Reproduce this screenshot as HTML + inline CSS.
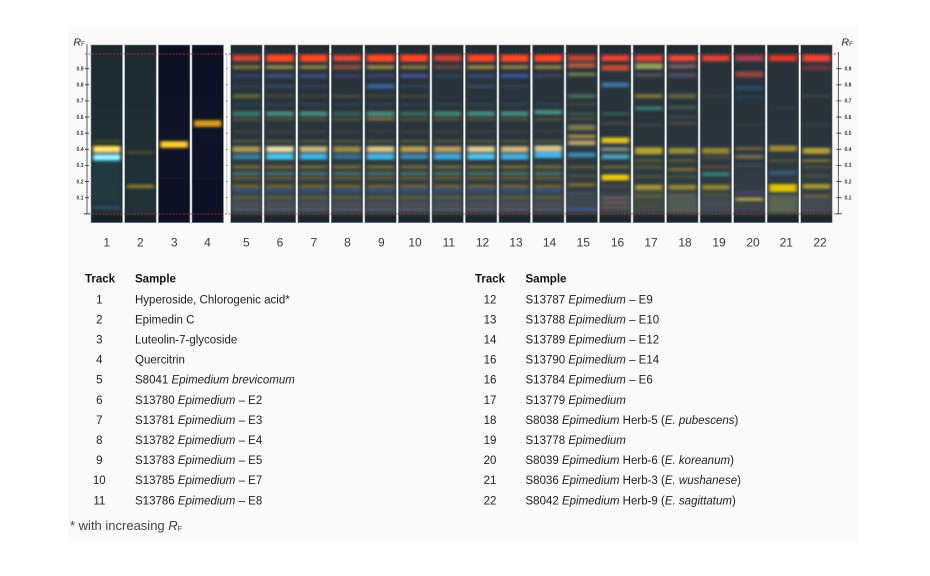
<!DOCTYPE html>
<html><head><meta charset="utf-8"><style>
html,body{margin:0;padding:0;background:#fff;}
body{width:930px;height:576px;overflow:hidden;position:relative;font-family:"Liberation Sans",sans-serif;}
svg{position:absolute;left:0;top:0;}
</style></head><body>
<svg width="930" height="576" viewBox="0 0 930 576" xmlns="http://www.w3.org/2000/svg">
<defs>
<filter id="bl" filterUnits="userSpaceOnUse" x="-10" y="35" width="52" height="200"><feGaussianBlur stdDeviation="1.9 1.35"/></filter>
<clipPath id="cp"><rect x="0" y="45" width="31.5" height="177.7"/></clipPath>
<linearGradient id="gE" gradientUnits="userSpaceOnUse" x1="0" y1="45" x2="0" y2="222.7">
<stop offset="0" stop-color="#1e2930"/><stop offset="0.05" stop-color="#222e37"/><stop offset="0.06" stop-color="#27323b"/><stop offset="0.5" stop-color="#29343c"/><stop offset="0.8" stop-color="#313c44"/><stop offset="0.93" stop-color="#3a444b"/><stop offset="0.952" stop-color="#2a343a"/><stop offset="0.965" stop-color="#1d272e"/><stop offset="1" stop-color="#1c252c"/>
</linearGradient>
<linearGradient id="gT" gradientUnits="userSpaceOnUse" x1="0" y1="45" x2="0" y2="222.7">
<stop offset="0" stop-color="#18242a"/><stop offset="0.05" stop-color="#1c2a30"/><stop offset="0.5" stop-color="#1e2e34"/><stop offset="0.94" stop-color="#203238"/><stop offset="0.965" stop-color="#172228"/><stop offset="1" stop-color="#162026"/>
</linearGradient>
<linearGradient id="gN" gradientUnits="userSpaceOnUse" x1="0" y1="45" x2="0" y2="222.7">
<stop offset="0" stop-color="#0c0f20"/><stop offset="0.5" stop-color="#0f1327"/><stop offset="1" stop-color="#0d1022"/>
</linearGradient>
<g id="low">
<rect x="1" y="193" width="29.5" height="20" fill="#4a525a" opacity=".35"/>
<path d="M2 141.2h27.5" stroke="#7a7040" stroke-width="3" stroke-opacity=".5"/>
<path d="M2 131.6h27.5" stroke="#4a5058" stroke-width="3" stroke-opacity=".4"/>
<path d="M2 119.5h27.5" stroke="#6a6040" stroke-width="3" stroke-opacity=".6"/>
<path d="M2 104.2h27.5" stroke="#3a5070" stroke-width="3" stroke-opacity=".4"/>
<path d="M2 167h27.5" stroke="#7a7030" stroke-width="3.5" stroke-opacity=".85"/>
<path d="M2 173.5h27.5" stroke="#4a7868" stroke-width="3.5" stroke-opacity=".85"/>
<path d="M2 178.3h27.5" stroke="#7a6a30" stroke-width="3" stroke-opacity=".7"/>
<path d="M2 186.4h27.5" stroke="#7a6a30" stroke-width="3.5" stroke-opacity=".85"/>
<path d="M2 190.4h27.5" stroke="#3a5890" stroke-width="3" stroke-opacity=".8"/>
<path d="M2 197.7h27.5" stroke="#6a6438" stroke-width="3" stroke-opacity=".7"/>
<path d="M2 204.1h27.5" stroke="#5a5a60" stroke-width="3" stroke-opacity=".6"/>
<path d="M2 209h27.5" stroke="#556070" stroke-width="3" stroke-opacity=".6"/>
</g>
</defs>

<rect x="68" y="25" width="791" height="518" fill="#fafafa"/>

<!-- Track 1 -->
<g transform="translate(91,0)"><rect x="0" y="45" width="31.5" height="177.7" fill="url(#gT)"/>
<g clip-path="url(#cp)"><g filter="url(#bl)">
<rect x="2" y="162" width="27.5" height="40" fill="#2a4a55" opacity=".35"/>
<path d="M2 141.2h27.5" stroke="#5a5a20" stroke-width="3" stroke-opacity=".6"/>
<path d="M2 149.3h27.5" stroke="#ffd000" stroke-width="7"/>
<path d="M2 149.3h27.5" stroke="#fff2a0" stroke-width="2.5"/>
<path d="M2 157.4h27.5" stroke="#40e0ff" stroke-width="7"/>
<path d="M2 157.4h27.5" stroke="#c0f8ff" stroke-width="2.5"/>
<path d="M2 207.4h27.5" stroke="#2a5a80" stroke-width="3" stroke-opacity=".8"/>
</g></g><rect x="0" y="45" width="31.5" height="177.7" fill="none" stroke="#8e969a" stroke-width=".6"/></g>
<!-- Track 2 -->
<g transform="translate(124.7,0)"><rect x="0" y="45" width="31.5" height="177.7" fill="url(#gT)"/>
<g clip-path="url(#cp)"><g filter="url(#bl)">
<path d="M2 152.5h27.5" stroke="#5a5a30" stroke-width="3" stroke-opacity=".7"/>
<path d="M2 186.4h27.5" stroke="#8a7a2a" stroke-width="4" stroke-opacity=".9"/>
</g></g><rect x="0" y="45" width="31.5" height="177.7" fill="none" stroke="#8e969a" stroke-width=".6"/></g>
<!-- Track 3 -->
<g transform="translate(158.4,0)"><rect x="0" y="45" width="31.5" height="177.7" fill="url(#gN)"/>
<g clip-path="url(#cp)"><g filter="url(#bl)">
<path d="M2 144.5h27.5" stroke="#f0b800" stroke-width="7"/>
<path d="M2 144.5h27.5" stroke="#ffd040" stroke-width="3"/>
<path d="M2 178.3h27.5" stroke="#1a1a24" stroke-width="3" stroke-opacity=".4"/>
</g></g><rect x="0" y="45" width="31.5" height="177.7" fill="none" stroke="#8e969a" stroke-width=".6"/></g>
<!-- Track 4 -->
<g transform="translate(192,0)"><rect x="0" y="45" width="31.5" height="177.7" fill="url(#gN)"/>
<g clip-path="url(#cp)"><g filter="url(#bl)">
<path d="M2 123.5h27.5" stroke="#c89010" stroke-width="7"/>
<path d="M2 123.5h27.5" stroke="#d8a020" stroke-width="3"/>
<path d="M2 178.3h27.5" stroke="#1a1a24" stroke-width="3" stroke-opacity=".5"/>
</g></g><rect x="0" y="45" width="31.5" height="177.7" fill="none" stroke="#8e969a" stroke-width=".6"/></g>

<!-- Track 5 -->
<g transform="translate(230.7,0)"><rect x="0" y="45" width="31.5" height="177.7" fill="url(#gE)"/>
<g clip-path="url(#cp)"><g filter="url(#bl)"><use href="#low"/>
<path d="M2 58.2h27.5" stroke="#e04a30" stroke-width="6" stroke-opacity=".9"/>
<path d="M2 67.1h27.5" stroke="#9a8a40" stroke-width="4" stroke-opacity=".7"/>
<path d="M2 75.9h27.5" stroke="#3a4a70" stroke-width="4" stroke-opacity=".6"/>
<path d="M2 86.4h27.5" stroke="#34506a" stroke-width="3" stroke-opacity=".5"/>
<path d="M2 96.1h27.5" stroke="#7a7a38" stroke-width="4" stroke-opacity=".7"/>
<path d="M2 113.8h27.5" stroke="#408070" stroke-width="5" stroke-opacity=".85"/>
<path d="M2 149.3h27.5" stroke="#a89848" stroke-width="6"/>
<path d="M2 156.8h27.5" stroke="#3a8aaa" stroke-width="5" stroke-opacity=".9"/>
</g></g><rect x="0" y="45" width="31.5" height="177.7" fill="none" stroke="#8e969a" stroke-width=".6"/></g>
<!-- Track 6 -->
<g transform="translate(264.2,0)"><rect x="0" y="45" width="31.5" height="177.7" fill="url(#gE)"/>
<g clip-path="url(#cp)"><g filter="url(#bl)"><use href="#low"/>
<path d="M2 58.2h27.5" stroke="#ff4a22" stroke-width="7"/>
<path d="M2 67.1h27.5" stroke="#a89048" stroke-width="4" stroke-opacity=".85"/>
<path d="M2 75.9h27.5" stroke="#4a5890" stroke-width="4" stroke-opacity=".7"/>
<path d="M2 86.4h27.5" stroke="#3a5a80" stroke-width="3" stroke-opacity=".6"/>
<path d="M2 96.1h27.5" stroke="#5a5a40" stroke-width="3" stroke-opacity=".5"/>
<path d="M2 113.8h27.5" stroke="#4a8a78" stroke-width="5"/>
<path d="M2 149.3h27.5" stroke="#e8e0a8" stroke-width="6"/>
<path d="M2 156.6h27.5" stroke="#40c8f0" stroke-width="6"/>
</g></g><rect x="0" y="45" width="31.5" height="177.7" fill="none" stroke="#8e969a" stroke-width=".6"/></g>
<!-- Track 7 -->
<g transform="translate(297.8,0)"><rect x="0" y="45" width="31.5" height="177.7" fill="url(#gE)"/>
<g clip-path="url(#cp)"><g filter="url(#bl)"><use href="#low"/>
<path d="M2 58.2h27.5" stroke="#ff4a22" stroke-width="7"/>
<path d="M2 67.1h27.5" stroke="#a89048" stroke-width="4" stroke-opacity=".8"/>
<path d="M2 75.9h27.5" stroke="#4a5a90" stroke-width="4" stroke-opacity=".7"/>
<path d="M2 86.4h27.5" stroke="#3a5070" stroke-width="3" stroke-opacity=".5"/>
<path d="M2 96.1h27.5" stroke="#5a5a40" stroke-width="3" stroke-opacity=".4"/>
<path d="M2 113.8h27.5" stroke="#4a8a78" stroke-width="5"/>
<path d="M2 149.3h27.5" stroke="#c8b880" stroke-width="6"/>
<path d="M2 156.6h27.5" stroke="#38b8e8" stroke-width="6"/>
</g></g><rect x="0" y="45" width="31.5" height="177.7" fill="none" stroke="#8e969a" stroke-width=".6"/></g>
<!-- Track 8 -->
<g transform="translate(331.3,0)"><rect x="0" y="45" width="31.5" height="177.7" fill="url(#gE)"/>
<g clip-path="url(#cp)"><g filter="url(#bl)"><use href="#low"/>
<path d="M2 58.2h27.5" stroke="#e84530" stroke-width="6"/>
<path d="M2 67.1h27.5" stroke="#a05040" stroke-width="5" stroke-opacity=".8"/>
<path d="M2 75.9h27.5" stroke="#4a4a70" stroke-width="4" stroke-opacity=".5"/>
<path d="M2 96.1h27.5" stroke="#6a6a38" stroke-width="3" stroke-opacity=".5"/>
<path d="M2 113.8h27.5" stroke="#3a6a60" stroke-width="5" stroke-opacity=".7"/>
<path d="M2 149.3h27.5" stroke="#9a8a40" stroke-width="6"/>
<path d="M2 156.6h27.5" stroke="#3a7090" stroke-width="5"/>
</g></g><rect x="0" y="45" width="31.5" height="177.7" fill="none" stroke="#8e969a" stroke-width=".6"/></g>
<!-- Track 9 -->
<g transform="translate(364.8,0)"><rect x="0" y="45" width="31.5" height="177.7" fill="url(#gE)"/>
<g clip-path="url(#cp)"><g filter="url(#bl)"><use href="#low"/>
<path d="M2 58.2h27.5" stroke="#ff4a22" stroke-width="7"/>
<path d="M2 67.1h27.5" stroke="#b09040" stroke-width="4" stroke-opacity=".85"/>
<path d="M2 75.9h27.5" stroke="#4a5890" stroke-width="4" stroke-opacity=".5"/>
<path d="M2 86.4h27.5" stroke="#3a6ab0" stroke-width="5" stroke-opacity=".8"/>
<path d="M2 96.1h27.5" stroke="#5a5a40" stroke-width="3" stroke-opacity=".4"/>
<path d="M2 113.8h27.5" stroke="#4a8a78" stroke-width="5"/>
<path d="M2 118.7h27.5" stroke="#8a7040" stroke-width="3" stroke-opacity=".8"/>
<path d="M2 149.3h27.5" stroke="#d8c888" stroke-width="6"/>
<path d="M2 156.6h27.5" stroke="#40b8e8" stroke-width="6"/>
</g></g><rect x="0" y="45" width="31.5" height="177.7" fill="none" stroke="#8e969a" stroke-width=".6"/></g>
<!-- Track 10 -->
<g transform="translate(398.4,0)"><rect x="0" y="45" width="31.5" height="177.7" fill="url(#gE)"/>
<g clip-path="url(#cp)"><g filter="url(#bl)"><use href="#low"/>
<path d="M2 58.2h27.5" stroke="#ff4422" stroke-width="7"/>
<path d="M2 67.1h27.5" stroke="#a08040" stroke-width="4" stroke-opacity=".8"/>
<path d="M2 75.9h27.5" stroke="#5058a8" stroke-width="4" stroke-opacity=".8"/>
<path d="M2 86.4h27.5" stroke="#3a5070" stroke-width="3" stroke-opacity=".5"/>
<path d="M2 96.1h27.5" stroke="#5a5a40" stroke-width="3" stroke-opacity=".5"/>
<path d="M2 113.8h27.5" stroke="#407060" stroke-width="5" stroke-opacity=".8"/>
<path d="M2 149.3h27.5" stroke="#b8a050" stroke-width="6"/>
<path d="M2 156.6h27.5" stroke="#3a8ab8" stroke-width="5"/>
</g></g><rect x="0" y="45" width="31.5" height="177.7" fill="none" stroke="#8e969a" stroke-width=".6"/></g>
<!-- Track 11 -->
<g transform="translate(431.9,0)"><rect x="0" y="45" width="31.5" height="177.7" fill="url(#gE)"/>
<g clip-path="url(#cp)"><g filter="url(#bl)"><use href="#low"/>
<path d="M2 58.2h27.5" stroke="#d84030" stroke-width="6" stroke-opacity=".9"/>
<path d="M2 67.1h27.5" stroke="#805040" stroke-width="4" stroke-opacity=".7"/>
<path d="M2 75.9h27.5" stroke="#3a4a70" stroke-width="4" stroke-opacity=".5"/>
<path d="M2 113.8h27.5" stroke="#408a70" stroke-width="5" stroke-opacity=".9"/>
<path d="M2 149.3h27.5" stroke="#b8a060" stroke-width="6"/>
<path d="M2 156.6h27.5" stroke="#3aa8d8" stroke-width="6"/>
</g></g><rect x="0" y="45" width="31.5" height="177.7" fill="none" stroke="#8e969a" stroke-width=".6"/></g>
<!-- Track 12 -->
<g transform="translate(465.4,0)"><rect x="0" y="45" width="31.5" height="177.7" fill="url(#gE)"/>
<g clip-path="url(#cp)"><g filter="url(#bl)"><use href="#low"/>
<path d="M2 58.2h27.5" stroke="#ff4422" stroke-width="7"/>
<path d="M2 67.1h27.5" stroke="#b09040" stroke-width="4" stroke-opacity=".85"/>
<path d="M2 75.9h27.5" stroke="#4a5890" stroke-width="4" stroke-opacity=".6"/>
<path d="M2 86.4h27.5" stroke="#3a5a88" stroke-width="3" stroke-opacity=".6"/>
<path d="M2 113.8h27.5" stroke="#4a8a78" stroke-width="5"/>
<path d="M2 149.3h27.5" stroke="#e0d090" stroke-width="6"/>
<path d="M2 156.6h27.5" stroke="#48c8f0" stroke-width="6"/>
</g></g><rect x="0" y="45" width="31.5" height="177.7" fill="none" stroke="#8e969a" stroke-width=".6"/></g>
<!-- Track 13 -->
<g transform="translate(498.9,0)"><rect x="0" y="45" width="31.5" height="177.7" fill="url(#gE)"/>
<g clip-path="url(#cp)"><g filter="url(#bl)"><use href="#low"/>
<path d="M2 58.2h27.5" stroke="#ff4a22" stroke-width="7"/>
<path d="M2 67.1h27.5" stroke="#a89048" stroke-width="4" stroke-opacity=".8"/>
<path d="M2 75.9h27.5" stroke="#4a5ab0" stroke-width="4" stroke-opacity=".8"/>
<path d="M2 86.4h27.5" stroke="#3a5070" stroke-width="3" stroke-opacity=".5"/>
<path d="M2 113.8h27.5" stroke="#4a8a78" stroke-width="5"/>
<path d="M2 149.3h27.5" stroke="#d0b880" stroke-width="6"/>
<path d="M2 156.6h27.5" stroke="#40b0e0" stroke-width="6"/>
</g></g><rect x="0" y="45" width="31.5" height="177.7" fill="none" stroke="#8e969a" stroke-width=".6"/></g>
<!-- Track 14 -->
<g transform="translate(532.5,0)"><rect x="0" y="45" width="31.5" height="177.7" fill="url(#gE)"/>
<g clip-path="url(#cp)"><g filter="url(#bl)"><use href="#low"/>
<path d="M2 58.2h27.5" stroke="#ff4422" stroke-width="7"/>
<path d="M2 67.1h27.5" stroke="#a89048" stroke-width="4" stroke-opacity=".8"/>
<path d="M2 75.9h27.5" stroke="#4a5070" stroke-width="4" stroke-opacity=".5"/>
<path d="M2 112.2h27.5" stroke="#4a8a78" stroke-width="5"/>
<path d="M2 148.5h27.5" stroke="#d8c890" stroke-width="6"/>
<path d="M2 155h27.5" stroke="#40b8e8" stroke-width="6"/>
</g></g><rect x="0" y="45" width="31.5" height="177.7" fill="none" stroke="#8e969a" stroke-width=".6"/></g>
<!-- Track 15 -->
<g transform="translate(566,0)"><rect x="0" y="45" width="31.5" height="177.7" fill="url(#gE)"/>
<g clip-path="url(#cp)"><g filter="url(#bl)">
<rect x="1" y="193" width="29.5" height="20" fill="#4a525a" opacity=".3"/>
<path d="M2 58.2h27.5" stroke="#d04830" stroke-width="6" stroke-opacity=".9"/>
<path d="M2 65.5h27.5" stroke="#c06040" stroke-width="5" stroke-opacity=".85"/>
<path d="M2 74.3h27.5" stroke="#7a8a50" stroke-width="4" stroke-opacity=".8"/>
<path d="M2 96.1h27.5" stroke="#4a7a60" stroke-width="4" stroke-opacity=".8"/>
<path d="M2 104.2h27.5" stroke="#5a5a40" stroke-width="3" stroke-opacity=".5"/>
<path d="M2 113.8h27.5" stroke="#4a6a58" stroke-width="3" stroke-opacity=".6"/>
<path d="M2 118.7h27.5" stroke="#6a6a40" stroke-width="3" stroke-opacity=".5"/>
<path d="M2 127.5h27.5" stroke="#8a8a50" stroke-width="6" stroke-opacity=".8"/>
<path d="M2 136.4h27.5" stroke="#a89050" stroke-width="4" stroke-opacity=".9"/>
<path d="M2 142.9h27.5" stroke="#c8a868" stroke-width="5" stroke-opacity=".9"/>
<path d="M2 154.9h27.5" stroke="#3a90b8" stroke-width="5" stroke-opacity=".9"/>
<path d="M2 167h27.5" stroke="#6a6030" stroke-width="3" stroke-opacity=".8"/>
<path d="M2 175.9h27.5" stroke="#5a5a40" stroke-width="3" stroke-opacity=".6"/>
<path d="M2 184.8h27.5" stroke="#8a7030" stroke-width="3.5" stroke-opacity=".85"/>
<path d="M2 192.8h27.5" stroke="#4a5060" stroke-width="3" stroke-opacity=".6"/>
<path d="M2 209h27.5" stroke="#3a5a90" stroke-width="3" stroke-opacity=".8"/>
</g></g><rect x="0" y="45" width="31.5" height="177.7" fill="none" stroke="#8e969a" stroke-width=".6"/></g>
<!-- Track 16 -->
<g transform="translate(599.5,0)"><rect x="0" y="45" width="31.5" height="177.7" fill="url(#gE)"/>
<g clip-path="url(#cp)"><g filter="url(#bl)">
<rect x="1" y="193" width="29.5" height="20" fill="#4a525a" opacity=".3"/>
<path d="M2 58.2h27.5" stroke="#f04030" stroke-width="6"/>
<path d="M2 67.9h27.5" stroke="#d05030" stroke-width="6" stroke-opacity=".9"/>
<path d="M2 84.8h27.5" stroke="#3a78b0" stroke-width="5" stroke-opacity=".9"/>
<path d="M2 113.8h27.5" stroke="#3a6a5a" stroke-width="3" stroke-opacity=".7"/>
<path d="M2 123.5h27.5" stroke="#5a5a40" stroke-width="3" stroke-opacity=".5"/>
<path d="M2 140.4h27.5" stroke="#e0c020" stroke-width="6"/>
<path d="M2 149.3h27.5" stroke="#8a9888" stroke-width="4" stroke-opacity=".85"/>
<path d="M2 156.6h27.5" stroke="#50a8c8" stroke-width="5" stroke-opacity=".9"/>
<path d="M2 167h27.5" stroke="#7a7030" stroke-width="3" stroke-opacity=".8"/>
<path d="M2 177.5h27.5" stroke="#e8c810" stroke-width="6"/>
<path d="M2 186.4h27.5" stroke="#5a5040" stroke-width="3" stroke-opacity=".6"/>
<path d="M2 197.7h27.5" stroke="#806060" stroke-width="2.5" stroke-opacity=".8"/>
<path d="M2 202.5h27.5" stroke="#806058" stroke-width="2.5" stroke-opacity=".8"/>
<path d="M2 207.4h27.5" stroke="#705a58" stroke-width="2.5" stroke-opacity=".8"/>
</g></g><rect x="0" y="45" width="31.5" height="177.7" fill="none" stroke="#8e969a" stroke-width=".6"/></g>
<!-- Track 17 -->
<g transform="translate(633.1,0)"><rect x="0" y="45" width="31.5" height="177.7" fill="url(#gE)"/>
<g clip-path="url(#cp)"><g filter="url(#bl)">
<rect x="1" y="190" width="29.5" height="23" fill="#4a5040" opacity=".6"/>
<path d="M2 58.2h27.5" stroke="#e84030" stroke-width="6"/>
<path d="M2 66.3h27.5" stroke="#a0a860" stroke-width="6" stroke-opacity=".9"/>
<path d="M2 75.1h27.5" stroke="#6a6070" stroke-width="4" stroke-opacity=".6"/>
<path d="M2 96.1h27.5" stroke="#8a8030" stroke-width="4" stroke-opacity=".9"/>
<path d="M2 108.2h27.5" stroke="#3a8070" stroke-width="4" stroke-opacity=".9"/>
<path d="M2 125.1h27.5" stroke="#4a5048" stroke-width="3" stroke-opacity=".5"/>
<path d="M2 150.9h27.5" stroke="#b8a830" stroke-width="7" stroke-opacity=".95"/>
<path d="M2 160.6h27.5" stroke="#6a6a30" stroke-width="3" stroke-opacity=".7"/>
<path d="M2 167h27.5" stroke="#6a6430" stroke-width="3" stroke-opacity=".7"/>
<path d="M2 176.7h27.5" stroke="#5a5a30" stroke-width="3" stroke-opacity=".7"/>
<path d="M2 187.2h27.5" stroke="#b0a030" stroke-width="5" stroke-opacity=".9"/>
<path d="M2 196.1h27.5" stroke="#6a6a38" stroke-width="3" stroke-opacity=".7"/>
</g></g><rect x="0" y="45" width="31.5" height="177.7" fill="none" stroke="#8e969a" stroke-width=".6"/></g>
<!-- Track 18 -->
<g transform="translate(666.6,0)"><rect x="0" y="45" width="31.5" height="177.7" fill="url(#gE)"/>
<g clip-path="url(#cp)"><g filter="url(#bl)">
<rect x="1" y="196" width="29.5" height="17" fill="#5a6458" opacity=".75"/>
<path d="M2 58.2h27.5" stroke="#e84838" stroke-width="6"/>
<path d="M2 66.3h27.5" stroke="#806060" stroke-width="5" stroke-opacity=".8"/>
<path d="M2 75.1h27.5" stroke="#6a5a70" stroke-width="5" stroke-opacity=".6"/>
<path d="M2 96.1h27.5" stroke="#706a40" stroke-width="5" stroke-opacity=".8"/>
<path d="M2 107.4h27.5" stroke="#4a6a58" stroke-width="4" stroke-opacity=".6"/>
<path d="M2 117h27.5" stroke="#4a6048" stroke-width="3" stroke-opacity=".5"/>
<path d="M2 123.5h27.5" stroke="#5a5a40" stroke-width="3" stroke-opacity=".6"/>
<path d="M2 150.9h27.5" stroke="#a09838" stroke-width="6" stroke-opacity=".9"/>
<path d="M2 160.6h27.5" stroke="#6a6a38" stroke-width="3" stroke-opacity=".7"/>
<path d="M2 169.5h27.5" stroke="#807830" stroke-width="3.5" stroke-opacity=".8"/>
<path d="M2 176.7h27.5" stroke="#5a5a38" stroke-width="3" stroke-opacity=".7"/>
<path d="M2 187.2h27.5" stroke="#a09030" stroke-width="5" stroke-opacity=".9"/>
<path d="M2 194.5h27.5" stroke="#6a6a40" stroke-width="3" stroke-opacity=".7"/>
</g></g><rect x="0" y="45" width="31.5" height="177.7" fill="none" stroke="#8e969a" stroke-width=".6"/></g>
<!-- Track 19 -->
<g transform="translate(700.1,0)"><rect x="0" y="45" width="31.5" height="177.7" fill="url(#gE)"/>
<g clip-path="url(#cp)"><g filter="url(#bl)">
<rect x="1" y="195" width="29.5" height="18" fill="#4a525a" opacity=".4"/>
<path d="M2 58.2h27.5" stroke="#e04030" stroke-width="6"/>
<path d="M2 96.1h27.5" stroke="#4a4a38" stroke-width="3" stroke-opacity=".5"/>
<path d="M2 150.9h27.5" stroke="#a09030" stroke-width="6" stroke-opacity=".9"/>
<path d="M2 157.4h27.5" stroke="#5a5a38" stroke-width="3" stroke-opacity=".6"/>
<path d="M2 167h27.5" stroke="#6a4a38" stroke-width="3" stroke-opacity=".8"/>
<path d="M2 174.3h27.5" stroke="#3a8a80" stroke-width="4" stroke-opacity=".85"/>
<path d="M2 187.2h27.5" stroke="#a09030" stroke-width="5" stroke-opacity=".9"/>
<path d="M2 194.5h27.5" stroke="#5a5a38" stroke-width="3" stroke-opacity=".7"/>
<path d="M2 204.1h27.5" stroke="#4a5058" stroke-width="3" stroke-opacity=".6"/>
</g></g><rect x="0" y="45" width="31.5" height="177.7" fill="none" stroke="#8e969a" stroke-width=".6"/></g>
<!-- Track 20 -->
<g transform="translate(733.7,0)"><rect x="0" y="45" width="31.5" height="177.7" fill="url(#gE)"/>
<g clip-path="url(#cp)"><g filter="url(#bl)">
<path d="M2 58.2h27.5" stroke="#b04050" stroke-width="6" stroke-opacity=".9"/>
<path d="M2 74.3h27.5" stroke="#a04840" stroke-width="6" stroke-opacity=".85"/>
<path d="M2 88h27.5" stroke="#2a4a70" stroke-width="5" stroke-opacity=".8"/>
<path d="M2 97.7h27.5" stroke="#2a4a60" stroke-width="3" stroke-opacity=".6"/>
<path d="M2 125.1h27.5" stroke="#3a4048" stroke-width="3" stroke-opacity=".5"/>
<path d="M2 148.5h27.5" stroke="#806a40" stroke-width="3" stroke-opacity=".9"/>
<path d="M2 156.6h27.5" stroke="#807050" stroke-width="4" stroke-opacity=".9"/>
<path d="M2 165.4h27.5" stroke="#4a4a48" stroke-width="2.5" stroke-opacity=".7"/>
<path d="M2 192.8h27.5" stroke="#504070" stroke-width="3" stroke-opacity=".8"/>
<path d="M2 199.3h27.5" stroke="#b0a040" stroke-width="3.5" stroke-opacity=".95"/>
<path d="M2 205.7h27.5" stroke="#4a4a40" stroke-width="2.5" stroke-opacity=".7"/>
</g></g><rect x="0" y="45" width="31.5" height="177.7" fill="none" stroke="#8e969a" stroke-width=".6"/></g>
<!-- Track 21 -->
<g transform="translate(767.2,0)"><rect x="0" y="45" width="31.5" height="177.7" fill="url(#gE)"/>
<g clip-path="url(#cp)"><g filter="url(#bl)">
<rect x="1" y="195" width="29.5" height="18" fill="#6a7858" opacity=".65"/>
<path d="M2 58.2h27.5" stroke="#e03828" stroke-width="6"/>
<path d="M2 107.4h27.5" stroke="#2a4050" stroke-width="3" stroke-opacity=".5"/>
<path d="M2 148.5h27.5" stroke="#a89030" stroke-width="6" stroke-opacity=".9"/>
<path d="M2 160.6h27.5" stroke="#5a5a38" stroke-width="3" stroke-opacity=".7"/>
<path d="M2 172.7h27.5" stroke="#3a6080" stroke-width="4" stroke-opacity=".85"/>
<path d="M2 188h27.5" stroke="#e0c400" stroke-width="8"/>
</g></g><rect x="0" y="45" width="31.5" height="177.7" fill="none" stroke="#8e969a" stroke-width=".6"/></g>
<!-- Track 22 -->
<g transform="translate(800.7,0)"><rect x="0" y="45" width="31.5" height="177.7" fill="url(#gE)"/>
<g clip-path="url(#cp)"><g filter="url(#bl)">
<rect x="1" y="198" width="29.5" height="15" fill="#4a525a" opacity=".5"/>
<path d="M2 58.2h27.5" stroke="#f04030" stroke-width="7"/>
<path d="M2 67.9h27.5" stroke="#803040" stroke-width="5" stroke-opacity=".8"/>
<path d="M2 96.1h27.5" stroke="#4a5040" stroke-width="3" stroke-opacity=".5"/>
<path d="M2 125.1h27.5" stroke="#3a4a48" stroke-width="3" stroke-opacity=".5"/>
<path d="M2 150.9h27.5" stroke="#b8a830" stroke-width="6" stroke-opacity=".95"/>
<path d="M2 160.6h27.5" stroke="#8a7a30" stroke-width="3" stroke-opacity=".85"/>
<path d="M2 167h27.5" stroke="#5a5a30" stroke-width="3" stroke-opacity=".7"/>
<path d="M2 175.9h27.5" stroke="#4a5a40" stroke-width="3" stroke-opacity=".7"/>
<path d="M2 186.4h27.5" stroke="#b0a030" stroke-width="5" stroke-opacity=".9"/>
<path d="M2 196.1h27.5" stroke="#7a6a30" stroke-width="3" stroke-opacity=".8"/>
</g></g><rect x="0" y="45" width="31.5" height="177.7" fill="none" stroke="#8e969a" stroke-width=".6"/></g>

<!-- red dashed front/start lines -->
<path d="M85 54H838M85 214H838" stroke="#c8302a" stroke-width=".8" stroke-dasharray="2 1.5"/>

<!-- left axis -->
<g stroke="#333" stroke-width=".8">
<path d="M87 44V214"/>
<path d="M85 68.7h4M85 84.8h4M85 100.9h4M85 117.05h4M85 133.2h4M85 149.3h4M85 165.4h4M85 181.55h4M85 197.7h4M84 213.8h6"/>
</g>
<g font-family="Liberation Sans, sans-serif" font-size="5" fill="#333" text-anchor="end" font-weight="bold">
<text x="83.5" y="70.5">0.9</text><text x="83.5" y="86.6">0.8</text><text x="83.5" y="102.7">0.7</text><text x="83.5" y="118.85">0.6</text><text x="83.5" y="135">0.5</text><text x="83.5" y="151.1">0.4</text><text x="83.5" y="167.2">0.3</text><text x="83.5" y="183.35">0.2</text><text x="83.5" y="199.5">0.1</text>
</g>
<text x="73.5" y="45.5" font-family="Liberation Sans, sans-serif" font-size="10.5" font-style="italic" fill="#222">R<tspan font-size="6" font-style="normal" dy="0.5">F</tspan></text>

<!-- middle axis -->
<path d="M226.8 54V214" stroke="#c4c4c4" stroke-width="1"/>
<path d="M225.8 68.7h2M225.8 84.8h2M225.8 100.9h2M225.8 117.05h2M225.8 133.2h2M225.8 149.3h2M225.8 165.4h2M225.8 181.55h2M225.8 197.7h2" stroke="#666" stroke-width=".6"/>

<!-- right axis -->
<g stroke="#333" stroke-width=".8">
<path d="M838.3 52V214"/>
<path d="M836.5 68.7h5M836.5 84.8h5M836.5 100.9h5M836.5 117.05h5M836.5 133.2h5M836.5 149.3h5M836.5 165.4h5M836.5 181.55h5M836.5 197.7h5M836 213.8h6"/>
</g>
<g font-family="Liberation Sans, sans-serif" font-size="5" fill="#333" font-weight="bold">
<text x="844.5" y="70.5">0.9</text><text x="844.5" y="86.6">0.8</text><text x="844.5" y="102.7">0.7</text><text x="844.5" y="118.85">0.6</text><text x="844.5" y="135">0.5</text><text x="844.5" y="151.1">0.4</text><text x="844.5" y="167.2">0.3</text><text x="844.5" y="183.35">0.2</text><text x="844.5" y="199.5">0.1</text>
</g>
<text x="841.5" y="45.5" font-family="Liberation Sans, sans-serif" font-size="10.5" font-style="italic" fill="#222">R<tspan font-size="6" font-style="normal" dy="0.5">F</tspan></text>

<!-- track numbers -->
<g font-family="Liberation Sans, sans-serif" font-size="12" fill="#3a3a3a" text-anchor="middle">
<text x="106.7" y="246.7">1</text><text x="140.3" y="246.7">2</text><text x="174.2" y="246.7">3</text><text x="207.5" y="246.7">4</text>
<text x="246.3" y="246.7">5</text><text x="280" y="246.7">6</text><text x="313.8" y="246.7">7</text><text x="347.5" y="246.7">8</text>
<text x="381.3" y="246.7">9</text><text x="415" y="246.7">10</text><text x="448.8" y="246.7">11</text><text x="482.5" y="246.7">12</text>
<text x="516" y="246.7">13</text><text x="549.5" y="246.7">14</text><text x="583.3" y="246.7">15</text><text x="617.5" y="246.7">16</text>
<text x="651" y="246.7">17</text><text x="685" y="246.7">18</text><text x="719" y="246.7">19</text><text x="753" y="246.7">20</text>
<text x="786.3" y="246.7">21</text><text x="820" y="246.7">22</text>
</g>

<!-- table -->
<g font-family="Liberation Sans, sans-serif" font-size="11.5" fill="#1e1e1e">
<text x="85" y="282.6" font-weight="bold" fill="#111">Track</text>
<text x="135" y="282.6" font-weight="bold" fill="#111">Sample</text>
<text x="475" y="282.6" font-weight="bold" fill="#111">Track</text>
<text x="525.5" y="282.6" font-weight="bold" fill="#111">Sample</text>

<g text-anchor="middle">
<text x="99.3" y="303.3">1</text><text x="99.3" y="323.4">2</text><text x="99.3" y="343.5">3</text><text x="99.3" y="363.6">4</text><text x="99.3" y="383.7">5</text><text x="99.3" y="403.8">6</text><text x="99.3" y="423.9">7</text><text x="99.3" y="444">8</text><text x="99.3" y="464.1">9</text><text x="99.3" y="484.2">10</text><text x="99.3" y="504.3">11</text>
<text x="490" y="303.3">12</text><text x="490" y="323.4">13</text><text x="490" y="343.5">14</text><text x="490" y="363.6">16</text><text x="490" y="383.7">16</text><text x="490" y="403.8">17</text><text x="490" y="423.9">18</text><text x="490" y="444">19</text><text x="490" y="464.1">20</text><text x="490" y="484.2">21</text><text x="490" y="504.3">22</text>
</g>

<text x="135" y="303.3">Hyperoside, Chlorogenic acid*</text>
<text x="135" y="323.4">Epimedin C</text>
<text x="135" y="343.5">Luteolin-7-glycoside</text>
<text x="135" y="363.6">Quercitrin</text>
<text x="135" y="383.7">S8041 <tspan font-style="italic">Epimedium brevicomum</tspan></text>
<text x="135" y="403.8">S13780 <tspan font-style="italic">Epimedium</tspan> – E2</text>
<text x="135" y="423.9">S13781 <tspan font-style="italic">Epimedium</tspan> – E3</text>
<text x="135" y="444">S13782 <tspan font-style="italic">Epimedium</tspan> – E4</text>
<text x="135" y="464.1">S13783 <tspan font-style="italic">Epimedium</tspan> – E5</text>
<text x="135" y="484.2">S13785 <tspan font-style="italic">Epimedium</tspan> – E7</text>
<text x="135" y="504.3">S13786 <tspan font-style="italic">Epimedium</tspan> – E8</text>

<text x="525.5" y="303.3">S13787 <tspan font-style="italic">Epimedium</tspan> – E9</text>
<text x="525.5" y="323.4">S13788 <tspan font-style="italic">Epimedium</tspan> – E10</text>
<text x="525.5" y="343.5">S13789 <tspan font-style="italic">Epimedium</tspan> – E12</text>
<text x="525.5" y="363.6">S13790 <tspan font-style="italic">Epimedium</tspan> – E14</text>
<text x="525.5" y="383.7">S13784 <tspan font-style="italic">Epimedium</tspan> – E6</text>
<text x="525.5" y="403.8">S13779 <tspan font-style="italic">Epimedium</tspan></text>
<text x="525.5" y="423.9">S8038 <tspan font-style="italic">Epimedium</tspan> Herb-5 (<tspan font-style="italic">E. pubescens</tspan>)</text>
<text x="525.5" y="444">S13778 <tspan font-style="italic">Epimedium</tspan></text>
<text x="525.5" y="464.1">S8039 <tspan font-style="italic">Epimedium</tspan> Herb-6 (<tspan font-style="italic">E. koreanum</tspan>)</text>
<text x="525.5" y="484.2">S8036 <tspan font-style="italic">Epimedium</tspan> Herb-3 (<tspan font-style="italic">E. wushanese</tspan>)</text>
<text x="525.5" y="504.3">S8042 <tspan font-style="italic">Epimedium</tspan> Herb-9 (<tspan font-style="italic">E. sagittatum</tspan>)</text>
</g>

<text x="70" y="530" font-family="Liberation Sans, sans-serif" font-size="13" fill="#444">* with increasing <tspan font-style="italic">R</tspan><tspan font-size="7" dy="1">F</tspan></text>
</svg>
</body></html>
